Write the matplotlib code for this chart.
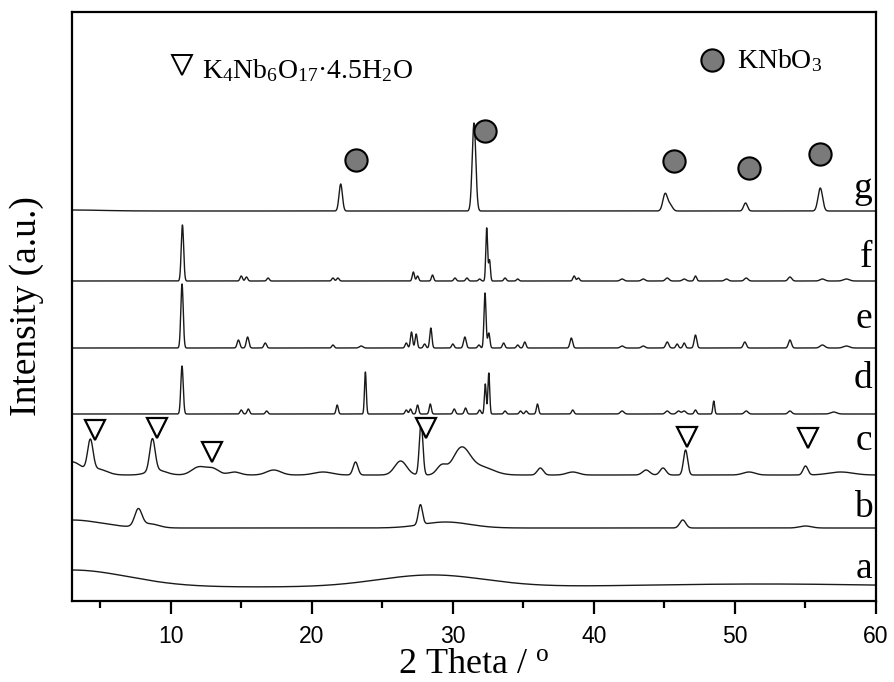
import numpy as np
import matplotlib
matplotlib.use("Agg")
import matplotlib.pyplot as plt

plt.rcParams['mathtext.fontset'] = 'custom'
plt.rcParams['mathtext.rm'] = 'Liberation Serif'
plt.rcParams['mathtext.it'] = 'Liberation Serif:italic'

SERIF = ['Liberation Serif', 'DejaVu Serif']
SANS = ['Liberation Sans', 'DejaVu Sans']

# ---------------- data ----------------
two_theta_range = (3, 60)
sample_labels = ['a', 'b', 'c', 'd', 'e', 'f', 'g']

# stacking offset of each pattern (arbitrary intensity units)
offsets = {'a': 14, 'b': 73, 'c': 126, 'd': 187, 'e': 253, 'f': 320, 'g': 390}

# peaks: (2theta, height, fwhm)
peaks_a = [(3.0, 17, 9.4), (28.5, 12, 9.0), (52.0, 3, 20.0)]
peaks_b = [(3.0, 8, 5.0), (7.7, 17, 0.6), (8.5, 4, 1.5), (27.7, 20, 0.35),
           (29.5, 6, 4.0), (46.3, 8, 0.5), (55.0, 2, 1.0)]
peaks_c = [(3.0, 13, 1.5), (4.3, 30, 0.45), (4.8, 6, 1.5), (8.7, 32, 0.45),
           (9.0, 5, 1.5), (12.0, 8, 1.2), (13.0, 6, 1.0), (14.5, 3, 1.0),
           (17.3, 5, 1.2), (20.8, 3, 1.5), (23.1, 13, 0.4), (26.3, 14, 1.0),
           (27.75, 52, 0.3), (29.2, 9, 0.8), (30.6, 26, 1.4), (32.0, 8, 2.0),
           (36.2, 7, 0.5), (38.5, 3, 1.0), (43.7, 5, 0.6), (44.9, 7, 0.5),
           (46.5, 25, 0.35), (51.0, 3, 1.0), (55.0, 9, 0.4), (57.5, 3, 2.0)]
peaks_d = [(10.8, 48, 0.2), (15.0, 4, 0.2), (15.5, 5, 0.2), (16.8, 3, 0.2),
           (21.8, 9, 0.18), (23.8, 42, 0.15), (26.7, 4, 0.2), (27.0, 5, 0.18),
           (27.5, 9, 0.18), (28.4, 10, 0.18), (30.1, 5, 0.2), (30.9, 6, 0.2),
           (31.9, 4, 0.2), (32.3, 30, 0.15), (32.55, 41, 0.15), (33.7, 3, 0.2),
           (34.8, 3, 0.2), (35.2, 3, 0.2), (36.0, 10, 0.18), (38.5, 4, 0.2),
           (42.0, 3, 0.3), (45.2, 3, 0.3), (46.0, 3, 0.3), (46.4, 3, 0.3),
           (47.2, 4, 0.2), (48.5, 13, 0.15), (50.8, 3, 0.3), (53.9, 3, 0.3),
           (57.0, 2, 0.5)]
peaks_e = [(10.8, 64, 0.2), (14.8, 8, 0.22), (15.45, 11, 0.22), (16.7, 5, 0.22),
           (21.5, 3, 0.2), (23.5, 2, 0.3), (26.7, 5, 0.2), (27.07, 16, 0.18),
           (27.4, 14, 0.18), (28.0, 4, 0.2), (28.44, 20, 0.18), (30.0, 4, 0.2),
           (30.85, 11, 0.22), (31.85, 3, 0.2), (32.28, 55, 0.17), (32.55, 15, 0.18),
           (33.6, 5, 0.2), (34.6, 3, 0.2), (35.1, 6, 0.2), (38.4, 10, 0.22),
           (42.0, 2, 0.3), (43.5, 2, 0.3), (45.2, 6, 0.25), (45.9, 4, 0.2),
           (46.4, 5, 0.2), (47.2, 13, 0.22), (50.7, 6, 0.25), (53.9, 8, 0.25),
           (56.2, 3, 0.4), (57.9, 2, 0.5)]
peaks_f = [(10.83, 56, 0.2), (15.0, 5, 0.2), (15.37, 4, 0.2), (16.9, 3, 0.2),
           (21.5, 3, 0.2), (21.85, 3, 0.2), (27.2, 9, 0.18), (27.5, 5, 0.18),
           (28.56, 6, 0.18), (30.15, 3, 0.2), (31.0, 3, 0.2), (31.9, 2, 0.2),
           (32.4, 53, 0.15), (32.6, 21, 0.15), (33.7, 3, 0.2), (34.6, 2, 0.2),
           (38.6, 5, 0.2), (38.9, 3, 0.2), (42.0, 2, 0.3), (43.5, 2, 0.3),
           (45.2, 3, 0.3), (46.4, 2, 0.3), (47.2, 5, 0.2), (49.4, 2, 0.3),
           (50.8, 3, 0.3), (53.9, 4, 0.3), (56.2, 2, 0.4), (57.9, 2, 0.5)]
peaks_g = [(3.0, 1, 5.0), (22.05, 27, 0.28), (31.5, 88, 0.3), (45.05, 17, 0.38),
           (45.4, 6, 0.4), (50.75, 8, 0.32), (56.05, 23, 0.38)]

peak_table = {'a': peaks_a, 'b': peaks_b, 'c': peaks_c, 'd': peaks_d,
              'e': peaks_e, 'f': peaks_f, 'g': peaks_g}

# phase markers (2theta, height on the stacked axis)
k4nb6o17_marks_x = [4.6, 9.0, 12.9, 28.1, 46.6, 55.2]
k4nb6o17_marks_y = [171, 173, 149, 173, 164, 163]
knbo3_marks_x = [23.1, 32.3, 45.7, 51.0, 56.0]
knbo3_marks_y = [441, 470, 440, 433, 447]

# label baselines of each pattern
label_y = {'a': 23, 'b': 84, 'c': 151, 'd': 213, 'e': 273, 'f': 334, 'g': 403}

x_ticks = [10, 20, 30, 40, 50, 60]

# ---------------- build patterns ----------------
tt = np.linspace(two_theta_range[0], two_theta_range[1], 5701)


def pattern(peaks, offset):
    y = np.full_like(tt, float(offset))
    for pos, h, fw in peaks:
        s = fw / 2.3548
        y += h * np.exp(-0.5 * ((tt - pos) / s) ** 2)
    return y


fig = plt.figure(figsize=(8.95, 6.82), dpi=100)
ax = fig.add_axes([72 / 895, 81 / 682, 804 / 895, 589 / 682])

for lab in sample_labels:
    ax.plot(tt, pattern(peak_table[lab], offsets[lab]), color='#1a1a1a', lw=1.0)
    ax.text(59.75, label_y[lab], lab, ha='right', va='baseline',
            fontsize=27, family=SERIF)

ax.plot(k4nb6o17_marks_x, k4nb6o17_marks_y, linestyle='none', marker='v',
        ms=15, mfc='white', mec='black', mew=1.6)
ax.plot(knbo3_marks_x, knbo3_marks_y, linestyle='none', marker='o',
        ms=16, mfc='#7a7a7a', mec='black', mew=1.5)

# legends
ax.plot([10.8], [536], linestyle='none', marker='v', ms=14, mfc='white',
        mec='black', mew=1.4)
ax.text(12.2, 523, r'K$_4$Nb$_6$O$_{17}$·4.5H$_2$O', fontsize=20,
        family=SERIF, va='baseline', ha='left')
ax.plot([48.36], [541], linestyle='none', marker='o', ms=16, mfc='#7a7a7a',
        mec='black', mew=1.5)
ax.text(50.13, 533, r'KNbO$_3$', fontsize=20, family=SERIF,
        va='baseline', ha='left')

ax.set_xlim(*two_theta_range)
ax.set_ylim(0, 589)
ax.set_yticks([])
ax.set_xticks(x_ticks)
ax.set_xticks([5, 15, 25, 35, 45, 55], minor=True)
ax.tick_params(axis='x', which='major', direction='out', length=9, width=1.6,
               labelsize=16.5, pad=8)
ax.tick_params(axis='x', which='minor', direction='out', length=5, width=1.6)
for lbl in ax.get_xticklabels():
    lbl.set_family(SANS)
for sp in ax.spines.values():
    sp.set_linewidth(1.6)

ax.set_xlabel(r'2 Theta / $^{\rm o}$', fontsize=26, family=SERIF, labelpad=0)
ax.set_ylabel('Intensity (a.u.)', fontsize=27, family=SERIF, labelpad=20)

fig.savefig('out.png', dpi=100)
